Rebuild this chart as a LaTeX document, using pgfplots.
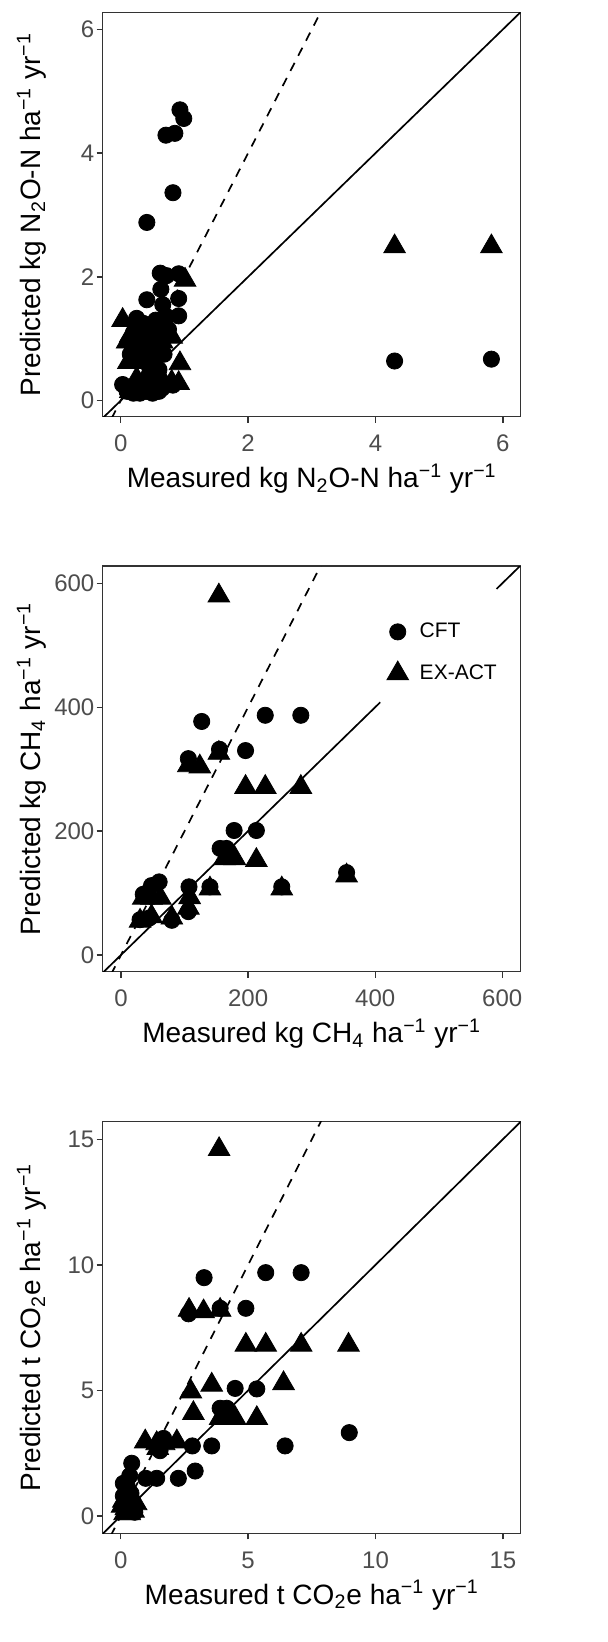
\documentclass[border=0pt]{standalone}
\usepackage{fontspec}
\setmainfont{Liberation Sans}
\usepackage{pgfplots}
\pgfplotsset{compat=1.18}
\definecolor{grey20}{HTML}{333333}
\definecolor{grey30}{HTML}{4D4D4D}
\newcommand{\unitsN}{N\textsubscript{2}O-N ha\textsuperscript{−1} yr\textsuperscript{−1}}
\newcommand{\unitsC}{CH\textsubscript{4} ha\textsuperscript{−1} yr\textsuperscript{−1}}
\newcommand{\unitsE}{CO\textsubscript{2}e ha\textsuperscript{−1} yr\textsuperscript{−1}}

\pgfplotsset{
  panel/.style={
    scale only axis, width=209pt,
    axis line style={grey20, line width=0.65pt},
    tick style={grey20, line width=0.65pt},
    tick align=outside, major tick length=3pt,
    xtick pos=lower, ytick pos=left,
    ticklabel style={font=\fontsize{12}{14}\selectfont, text=grey30},
    /pgf/number format/assume math mode=true,
    xticklabel style={anchor=north, inner ysep=0pt, yshift=-6pt},
    yticklabel style={anchor=east, inner xsep=0pt, xshift=-1pt},
    label style={font=\fontsize{14}{16}\selectfont, text=black},
    ylabel style={at={(axis description cs:-0.1483,0.5)}, anchor=base},
    xlabel style={at={(axis description cs:0.5,0)}, anchor=base, yshift=-35.5pt},
    scaled ticks=false,
    clip=true,
  },
  cft/.style={only marks, mark=*, mark size=4.05pt, mark options={draw=none, fill=black}},
  exact/.style={only marks, mark=triangle*, mark size=6.25pt, mark options={draw=none, fill=black}},
  one/.style={black, line width=0.85pt, forget plot, no marks},
  two/.style={black, line width=0.85pt, dash pattern=on 4.5pt off 4pt, forget plot, no marks},
}

\begin{document}
\begin{tikzpicture}
\path[use as bounding box] (0,0) rectangle (303.5pt,-821pt);

% N2O panel
\begin{axis}[panel,
  at={(51.35pt,-6.35pt)}, anchor=north west, height=202pt,
  xmin=-0.283, xmax=6.28, ymin=-0.26, ymax=6.27,
  xtick={0,2,4,6}, ytick={0,2,4,6},
  xlabel={Measured kg \unitsN},
  ylabel={Predicted kg \unitsN},
]
\addplot[one] coordinates {(-1,-1)(7,7)};
\addplot[two] coordinates {(-1,-2)(3.5,7)};
\addplot[cft] coordinates {
(0.93,4.70)(0.99,4.56)(0.71,4.29)(0.85,4.32)(0.82,3.36)(0.41,2.88)
(4.30,0.64)(5.82,0.67)(0.62,2.06)(0.72,2.02)(0.91,2.05)(0.63,1.80)
(0.66,1.55)(0.91,1.65)(0.41,1.63)(0.91,1.37)(0.72,1.36)(0.55,1.30)
(0.25,1.33)(0.35,1.25)(0.20,1.10)(0.30,0.95)(0.15,0.75)(0.22,0.85)
(0.60,0.50)(0.50,0.45)(0.45,0.55)(0.03,0.26)(0.10,0.15)(0.20,0.12)
(0.30,0.12)(0.40,0.15)(0.50,0.12)(0.60,0.15)(0.65,0.20)(0.55,0.30)
(0.82,0.25)(0.35,0.30)(0.45,0.95)(0.55,0.85)(0.35,0.65)(0.48,1.15)
(0.75,1.15)(0.68,0.75)};
\addplot[exact] coordinates {
(4.30,2.49)(5.82,2.49)(1.01,1.95)(0.03,1.30)(0.15,1.05)(0.10,0.95)
(0.20,1.00)(0.30,1.10)(0.45,1.05)(0.55,1.20)(0.80,1.03)(0.65,0.95)
(0.12,0.62)(0.25,0.62)(0.40,0.75)(0.93,0.60)(0.91,0.28)(0.25,0.35)
(0.35,0.30)(0.45,0.40)(0.55,0.45)(0.60,0.35)(0.15,0.15)(0.30,0.15)
(0.45,0.15)(0.70,0.25)(0.80,0.30)(0.35,0.85)(0.50,0.70)(0.70,1.40)
(0.60,1.10)};
\end{axis}

% CH4 panel
\begin{axis}[panel,
  at={(51.35pt,-283pt)}, anchor=north west, height=202.85pt,
  xmin=-28.8, xmax=629, ymin=-27, ymax=628,
  xtick={0,200,400,600}, ytick={0,200,400,600},
  xlabel={Measured kg \unitsC},
  ylabel={Predicted kg \unitsC},
  legend style={at={(axis cs:416,543)}, anchor=north west, draw=none, fill=none,
    font=\fontsize{10.5}{12.5}\selectfont, row sep=8pt, inner sep=0pt},
  legend cell align=left,
  legend image code/.code={\path[draw=none, fill=none] (0pt,-1pt) rectangle (15pt,1pt);
    \draw[mark repeat=2,mark phase=2] plot coordinates {(0pt,0pt)(6pt,0pt)(15pt,0pt)};},
]
\addplot[one] coordinates {(-40,-40)(408,408)};
\addplot[one] coordinates {(591,591)(640,640)};
\addplot[two] coordinates {(-40,-80)(320,640)};
\addplot[cft] coordinates {
(106,317)(127,377)(155,332)(196,330)(227,387)(283,387)(178,201)(213,201)
(156,172)(166,172)(355,133)(253,110)(140,110)(107,110)(106,70)(35,98)
(48,112)(60,118)(30,57)(80,56)(45,60)};
\addlegendentry{CFT}
\addplot[exact] coordinates {
(154,580)(154,326)(106,306)(124,304)(196,271)(227,271)(283,271)(163,156)
(179,156)(213,153)(355,128)(253,107)(140,107)(108,93)(106,76)(35,92)
(48,92)(62,92)(30,55)(48,62)(80,60)};
\addlegendentry{EX-ACT}
\end{axis}

% CO2e panel
\begin{axis}[panel,
  at={(51.35pt,-560.85pt)}, anchor=north west, height=205.8pt,
  xmin=-0.71, xmax=15.7, ymin=-0.69, ymax=15.7,
  xtick={0,5,10,15}, ytick={0,5,10,15},
  xlabel={Measured t \unitsE},
  ylabel={Predicted t \unitsE},
]
\addplot[one] coordinates {(-1,-1)(17,17)};
\addplot[two] coordinates {(-1,-2)(8.5,17)};
\addplot[cft] coordinates {
(3.27,9.49)(5.69,9.69)(7.08,9.69)(4.91,8.27)(3.90,8.27)(2.66,8.05)
(4.49,5.08)(5.34,5.06)(3.90,4.29)(4.16,4.29)(8.97,3.32)(6.45,2.79)
(3.57,2.79)(2.81,2.79)(2.92,1.79)(2.26,1.50)(1.41,1.50)(0.98,1.50)
(1.68,3.09)(1.54,2.60)(0.43,2.10)(0.35,1.60)(0.10,1.30)(0.25,1.20)
(0.40,0.90)(0.30,0.60)(0.50,0.30)(0.20,0.35)(0.10,0.80)(0.55,0.15)};
\addplot[exact] coordinates {
(3.86,14.6)(2.68,8.2)(3.25,8.14)(3.90,8.2)(4.91,6.81)(5.69,6.81)
(7.08,6.81)(8.94,6.81)(2.75,4.95)(3.57,5.22)(6.39,5.28)(2.85,4.09)
(3.90,3.89)(4.49,3.89)(4.10,3.89)(5.34,3.89)(0.96,2.96)(1.41,2.89)
(1.70,2.89)(2.20,2.96)(1.45,2.70)(0.10,0.60)(0.20,0.30)(0.30,0.80)
(0.40,0.40)(0.50,0.20)(0.60,0.50)(0.35,0.10)(0.15,0.10)(0.25,1.00)
(0.05,0.40)(0.45,0.60)};
\end{axis}
\end{tikzpicture}
\end{document}
